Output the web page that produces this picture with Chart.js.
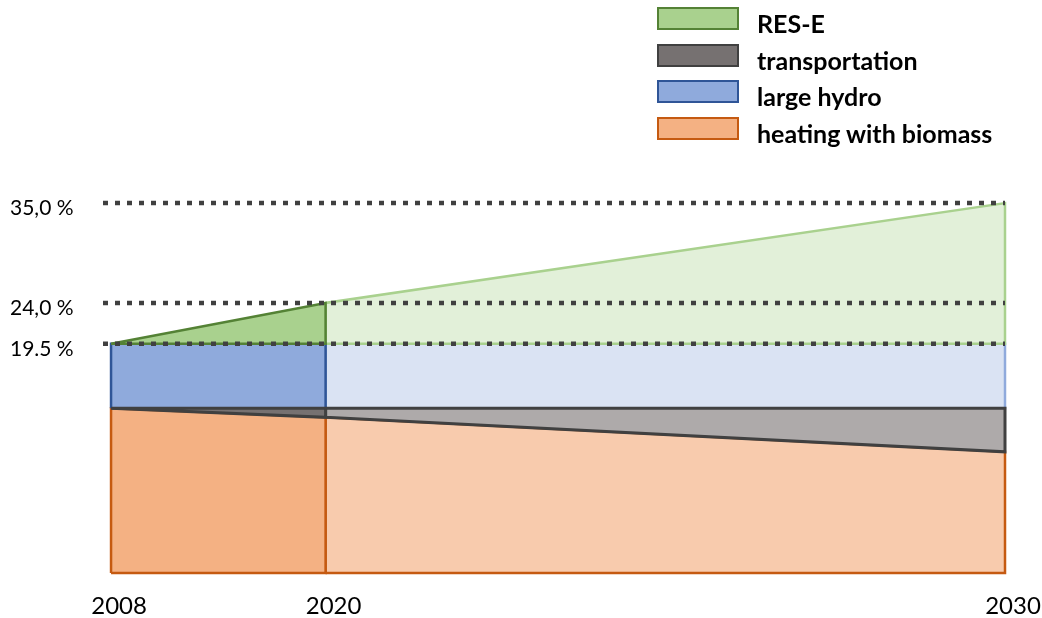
<!DOCTYPE html>
<html>
<head>
<meta charset="utf-8">
<script src="https://cdn.jsdelivr.net/npm/chart.js@4.4.1/dist/chart.umd.min.js"></script>
<style>
    html, body { margin: 0; padding: 0; background: #fff; }
    #wrap { position: relative; width: 1042px; height: 618px; }
    #legend { position: absolute; left: 657px; top: 7px; font-family: Lato, sans-serif; font-weight: bold; font-size: 25px; color: #000; }
    .item { position: absolute; left: 0; height: 23px; line-height: 23px; display: flex; white-space: nowrap; }
    .box { width: 78px; height: 19px; border: 2px solid; margin-right: 18px; }
    .item span { position: relative; top: 5px; }
</style>
</head>
<body>
<div id="wrap">
    <canvas id="chart" width="1042" height="618"></canvas>
    <div id="legend"></div>
</div>
<script>
// years and where they sit along the axis (2008 = 0, 2030 = 100)
const years = ['2008', '2020', '2030'];
const yearPos = [0, 24, 100];

// share of each block, stacked from the bottom (%)
const heating = [12.4, 11.4, 7.6];
const transport = [0, 1.0, 4.8];
const hydro = [7.1, 7.1, 7.1];
const rese = [0, 4.5, 15.5];

// dotted target lines
const targets = [35, 24, 19.5];
const targetLabels = ['35,0 %', '24,0 %', '19.5 %'];

// legend order, top to bottom
const legendOrder = ['RES-E', 'transportation', 'large hydro', 'heating with biomass'];

const xMin = -0.9, yMin = -5.75, yMax = 36;

// bottom-up; [2008-2020 look, 2020-2030 look]
const layers = [
    { label: 'heating with biomass', values: heating, fill: ['#f4b183', '#f8cbad'], line: ['#c55a11', '#c55a11'], width: 2.5, rank: 4 },
    { label: 'transportation', values: transport, fill: ['#767171', '#aeaaaa'], line: ['#404040', '#404040'], width: 3, rank: 1 },
    { label: 'large hydro', values: hydro, fill: ['#8faadc', '#dae3f3'], line: ['#2f5597', '#8faadc'], width: 2.5, rank: 3 },
    { label: 'RES-E', values: rese, fill: ['#a9d18e', '#e2f0d9'], line: ['#548235', '#a9d18e'], width: 2.5, rank: 2 }
];

const datasets = [];
let stack = yearPos.map(() => 0);
layers.forEach((layer, li) => {
    const top = stack.map((b, i) => b + layer.values[i]);
    const bottom = li === 0 ? yearPos.map(() => yMin) : stack;
    for (let s = 0; s < yearPos.length - 1; s++) {
        datasets.push({
            label: layer.label,
            data: [
                { x: yearPos[s], y: bottom[s] }, { x: yearPos[s], y: top[s] },
                { x: yearPos[s + 1], y: top[s + 1] }, { x: yearPos[s + 1], y: bottom[s + 1] },
                { x: yearPos[s], y: bottom[s] }
            ],
            fill: 'shape',
            backgroundColor: layer.fill[s],
            borderColor: layer.line[s],
            borderWidth: layer.width,
            borderJoinStyle: 'miter',
            pointRadius: 0,
            clip: 6,
            order: (s === 0 ? 10 : 20) + layer.rank
        });
    }
    stack = top;
});

targets.forEach(v => datasets.push({
    label: 'target',
    data: [{ x: xMin, y: v }, { x: yearPos[yearPos.length - 1], y: v }],
    borderColor: '#404040', borderWidth: 4.5, borderDash: [5, 7], borderCapStyle: 'butt',
    pointRadius: 0, fill: false, clip: 6, order: 0
}));

new Chart(document.getElementById('chart').getContext('2d'), {
    type: 'line',
    data: { datasets },
    options: {
        responsive: false,
        animation: false,
        layout: { padding: { left: 10, top: 194, right: 37, bottom: 0 } },
        plugins: { legend: { display: false }, tooltip: { enabled: false } },
        scales: {
            x: {
                type: 'linear', min: xMin, max: 100,
                grid: { display: false }, border: { display: false },
                afterBuildTicks: s => { s.ticks = yearPos.map(v => ({ value: v })); },
                afterFit: s => { s.height = 45; s.paddingLeft = 0; s.paddingRight = 0; },
                ticks: {
                    callback: (v, i) => years[i], autoSkip: false, maxRotation: 0,
                    labelOffset: 8, padding: 11, color: '#000', font: { family: 'Lato', size: 24 }
                }
            },
            y: {
                min: yMin, max: yMax,
                grid: { display: false }, border: { display: false },
                afterBuildTicks: s => { s.ticks = targets.map(v => ({ value: v })); },
                afterFit: s => { s.width = 93; },
                ticks: {
                    callback: (v, i) => targetLabels[i], autoSkip: false, crossAlign: 'far',
                    labelOffset: 5, color: '#000', font: { family: 'Lato', size: 21 }
                }
            }
        }
    }
});

const legend = document.getElementById('legend');
legendOrder.forEach((name, i) => {
    const layer = layers.find(l => l.label === name);
    const item = document.createElement('div');
    item.className = 'item';
    item.style.top = (i * 36.7) + 'px';
    item.innerHTML = `<div class="box" style="background:${layer.fill[0]};border-color:${layer.line[0]}"></div><span>${layer.label}</span>`;
    legend.appendChild(item);
});
</script>
</body>
</html>
